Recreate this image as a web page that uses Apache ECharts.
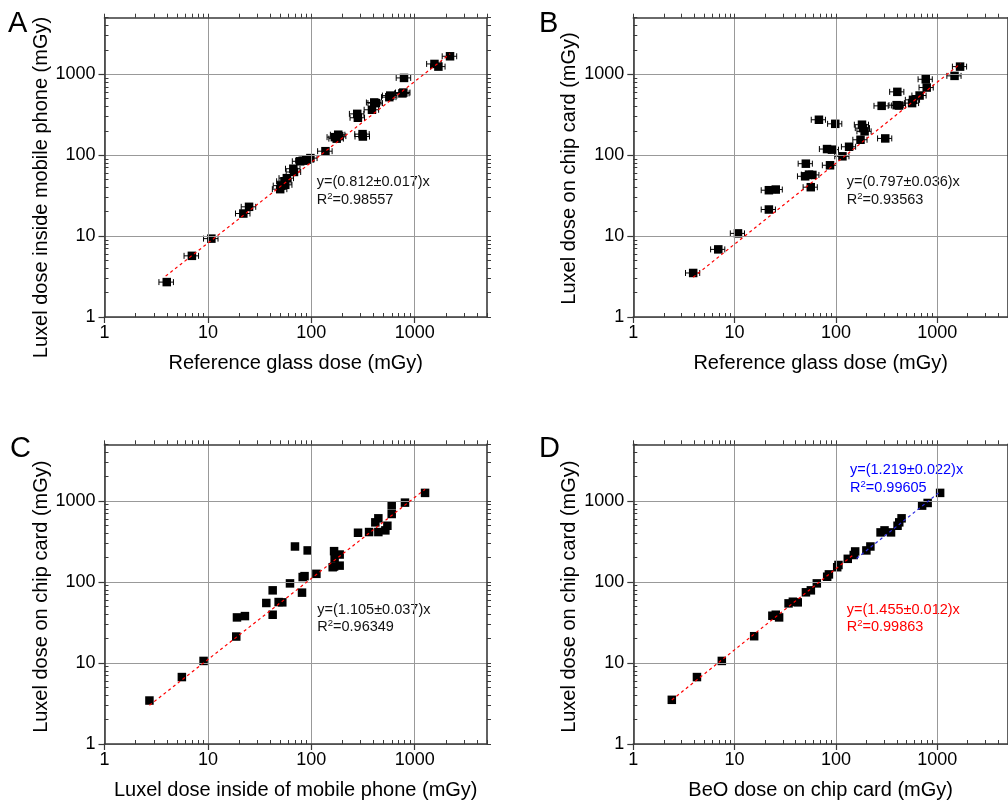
<!DOCTYPE html>
<html><head><meta charset="utf-8">
<script src="https://cdn.jsdelivr.net/npm/echarts@6/dist/echarts.min.js"></script>
<style>html,body{margin:0;padding:0;background:#fff}#c{width:1008px;height:802px}</style>
</head><body><div id="c"></div>
<script>
// ---------- data ----------
const glassDoseA = [4.0, 7.0, 10.8, 22, 25, 50, 51, 55, 58, 56, 67, 68, 78, 84, 90, 98, 137, 169, 176, 182, 186, 278, 282, 313, 315, 386, 406, 420, 568, 580, 760, 776, 788, 1552, 1694, 2195];
const phoneDoseA = [2.7, 5.7, 9.3, 19, 23, 38, 42, 47.6, 52, 43, 68, 62, 84, 85.5, 88, 92, 112, 167, 160, 179, 172, 324, 290, 182, 170, 364, 448, 440, 521, 545, 580, 594, 901, 1341, 1243, 1668];

const glassDoseB = [3.9, 6.9, 10.8, 21.8, 21.8, 25.5, 50.5, 49.7, 54.3, 58.6, 56.5, 68, 98.6, 81.8, 91.4, 87.5, 116, 135, 175, 181, 185, 192, 307, 283, 398, 420, 404, 565, 577, 670, 788, 771, 1483, 1682];
const cardDoseB  = [3.5, 6.85, 10.8, 21.3, 36.9, 37.6, 78.5, 54.8, 57.5, 57, 40.2, 274, 244, 119, 117, 75, 96.8, 127, 155, 238, 216, 197, 161, 407, 415, 411, 606, 440, 483, 546, 685, 867, 955, 1243];

const phoneDoseC = [2.72, 5.6, 9.08, 18.8, 19.1, 22.8, 36.7, 42.3, 42.3, 48.3, 52.4, 62.2, 69.5, 92.2, 81.3, 82.5, 86, 112, 161, 166, 188, 166, 168, 188, 283, 362, 445, 416, 445, 520, 544, 599, 599, 805, 1259];
const cardDoseC  = [3.44, 6.7, 10.6, 21.2, 36.5, 37.9, 55, 39.4, 78.8, 56.5, 56, 96, 274, 245, 73.8, 115, 118, 126, 152, 155, 159, 240, 195, 218, 405, 413, 413, 544, 610, 433, 494, 690, 884, 953, 1257];

const beoDoseD  = [2.4, 4.25, 7.48, 15.6, 23.6, 25.5, 27.5, 34.1, 37.6, 42, 50.6, 56.6, 64.8, 82, 85.3, 103, 106, 131, 150, 155, 200, 219, 276, 302, 350, 406, 422, 445, 710, 805, 1069];
const cardDoseD = [3.51, 6.7, 10.6, 21.4, 38.3, 39.4, 36.5, 54.4, 57, 56, 74.5, 78.8, 96, 116, 124, 152, 162, 193, 215, 238, 245, 274, 409, 433, 409, 494, 544, 610, 875, 944, 1257];

// relative horizontal uncertainty of the reference glass dose (panels A, B)
const glassRelErr = 0.16;

// fitted lines (end points)
const fitA = [[3.9, 3.2], [2200, 1790]];
const fitB = [[3.9, 3.1], [1700, 1355]];
const fitC = [[2.72, 3.0], [1260, 1392]];
const fitDlow = [[2.4, 3.5], [150, 218]];
const fitDhigh = [[160, 195], [1070, 1304]];

const decadeTicks = [1, 10, 100, 1000];
const minorTicks = [2, 3, 4, 5, 6, 7, 8, 9, 20, 30, 40, 50, 60, 70, 80, 90, 200, 300, 400, 500, 600, 700, 800, 900, 2000, 3000, 4000, 5000];
const allTicks = decadeTicks.concat(minorTicks);

const xTitles = ['Reference glass dose (mGy)', 'Reference glass dose (mGy)', 'Luxel dose inside of mobile phone (mGy)', 'BeO dose on chip card (mGy)'];
const yTitles = ['Luxel dose inside mobile phone (mGy)', 'Luxel dose on chip card (mGy)', 'Luxel dose on chip card (mGy)', 'Luxel dose on chip card (mGy)'];
const letters = ['A', 'B', 'C', 'D'];

// ---------- layout ----------
const FONT = '"Liberation Sans", Arial, Helvetica, sans-serif';
const boxes = [
  {left: 104.5, top: 17.7, width: 382.5, height: 299.3},
  {left: 633.3, top: 17.7, width: 382, height: 299.3},
  {left: 104.5, top: 444.3, width: 382.5, height: 299.7},
  {left: 633.3, top: 444.3, width: 382, height: 299.7}
];
const AXC = '#3a3a3a';
const plainNum = v => String(Math.round(v));

function baseAxis(gi, pos) {
  return {
    type: 'log', logBase: 10, min: 1, max: 5000, gridIndex: gi, position: pos,
    axisLine: {show: true, onZero: false, lineStyle: {color: AXC, width: 1.6}},
    axisLabel: {show: false}, axisTick: {show: false},
    splitLine: {show: false}, minorTick: {show: false}, minorSplitLine: {show: false},
    silent: true, z: 5
  };
}

const grids = [], xAxes = [], yAxes = [];
boxes.forEach((b, p) => {
  grids.push(Object.assign({}, b));          // main grid 2p
  grids.push(Object.assign({}, b));          // overlay grid 2p+1 (minor ticks)
  xAxes.push(Object.assign(baseAxis(2 * p, 'bottom'), {
    axisTick: {show: true, inside: false, length: 6, customValues: decadeTicks, lineStyle: {color: AXC, width: 1.2}},
    axisLabel: {show: true, customValues: decadeTicks, formatter: plainNum, fontSize: 18, color: '#000', fontFamily: FONT, margin: 7},
    splitLine: {show: true, lineStyle: {color: '#999', width: 1}},
    name: xTitles[p], nameLocation: 'middle', nameGap: 36,
    nameTextStyle: {fontSize: 20, color: '#000', fontFamily: FONT}
  }));
  xAxes.push(Object.assign(baseAxis(2 * p, 'top'), {
    axisTick: {show: true, inside: false, length: 4, customValues: allTicks, lineStyle: {color: AXC, width: 1}}
  }));
  xAxes.push(Object.assign(baseAxis(2 * p + 1, 'bottom'), {
    axisLine: {show: false},
    axisTick: {show: true, inside: true, length: 4, customValues: minorTicks, lineStyle: {color: AXC, width: 1}}
  }));
  yAxes.push(Object.assign(baseAxis(2 * p, 'left'), {
    axisTick: {show: true, inside: false, length: 6, customValues: decadeTicks, lineStyle: {color: AXC, width: 1.2}},
    axisLabel: {show: true, customValues: decadeTicks, formatter: plainNum, fontSize: 18, color: '#000', fontFamily: FONT, margin: 9},
    splitLine: {show: true, lineStyle: {color: '#999', width: 1}}
  }));
  yAxes.push(Object.assign(baseAxis(2 * p, 'right'), {
    axisTick: {show: true, inside: false, length: 4, customValues: allTicks, lineStyle: {color: AXC, width: 1}}
  }));
  yAxes.push(Object.assign(baseAxis(2 * p + 1, 'left'), {
    axisLine: {show: false},
    axisTick: {show: true, inside: true, length: 4, customValues: minorTicks, lineStyle: {color: AXC, width: 1}}
  }));
});

function zip(a, b) { return a.map((v, i) => [v, b[i]]); }

function errBars(p, xs, ys) {
  return {
    type: 'custom', xAxisIndex: 3 * p, yAxisIndex: 3 * p, silent: true, z: 3,
    data: xs.map((v, i) => [v, ys[i], glassRelErr]),
    renderItem: function (params, api) {
      const x = api.value(0), y = api.value(1), e = api.value(2);
      const lo = api.coord([x * (1 - e), y]);
      const hi = api.coord([x * (1 + e), y]);
      const h = 3;
      const st = {stroke: '#000', lineWidth: 1};
      return {type: 'group', children: [
        {type: 'line', shape: {x1: lo[0], y1: lo[1], x2: hi[0], y2: hi[1]}, style: st},
        {type: 'line', shape: {x1: lo[0], y1: lo[1] - h, x2: lo[0], y2: lo[1] + h}, style: st},
        {type: 'line', shape: {x1: hi[0], y1: hi[1] - h, x2: hi[0], y2: hi[1] + h}, style: st}
      ]};
    }
  };
}
function points(p, xs, ys) {
  return {type: 'scatter', xAxisIndex: 3 * p, yAxisIndex: 3 * p, data: zip(xs, ys),
    symbol: 'rect', symbolSize: 8.5, itemStyle: {color: '#000', opacity: 1}, silent: true, z: 4};
}
function fit(p, d, color) {
  return {type: 'line', xAxisIndex: 3 * p, yAxisIndex: 3 * p, data: d, symbol: 'none', silent: true, z: 5,
    lineStyle: {color: color, width: 1.2, type: [3, 3]}};
}

const series = [
  errBars(0, glassDoseA, phoneDoseA), points(0, glassDoseA, phoneDoseA), fit(0, fitA, '#ff0000'),
  errBars(1, glassDoseB, cardDoseB), points(1, glassDoseB, cardDoseB), fit(1, fitB, '#ff0000'),
  points(2, phoneDoseC, cardDoseC), fit(2, fitC, '#ff0000'),
  points(3, beoDoseD, cardDoseD), fit(3, fitDlow, '#ff0000'), fit(3, fitDhigh, '#2a2ae0')
];

// ---------- text ----------
const letterPos = [[8, 9], [539, 9], [10, 434], [539, 434]];
const yTitlePos = [[41, 187.5], [569, 168.5], [41, 596.7], [569, 596.7]];
const notes = [
  {x: 316.7, y: 173.5, c: '#111', t: 'y=(0.812±0.017)x', r: '0.98557'},
  {x: 846.7, y: 173.5, c: '#111', t: 'y=(0.797±0.036)x', r: '0.93563'},
  {x: 317.3, y: 601, c: '#111', t: 'y=(1.105±0.037)x', r: '0.96349'},
  {x: 850, y: 461.5, c: '#0000ff', t: 'y=(1.219±0.022)x', r: '0.99605'},
  {x: 846.7, y: 601, c: '#ff0000', t: 'y=(1.455±0.012)x', r: '0.99863'}
];
const graphic = [];
letters.forEach((l, i) => graphic.push({type: 'text', x: letterPos[i][0], y: letterPos[i][1], silent: true,
  style: {text: l, fontSize: 29, fontFamily: FONT, fill: '#000', align: 'left', verticalAlign: 'top'}}));
yTitles.forEach((t, i) => graphic.push({type: 'text', x: yTitlePos[i][0], y: yTitlePos[i][1], rotation: Math.PI / 2, silent: true,
  style: {text: t, fontSize: 20, fontFamily: FONT, fill: '#000', align: 'center', verticalAlign: 'middle'}}));
notes.forEach(n => graphic.push({type: 'text', x: n.x, y: n.y, silent: true,
  style: {text: n.t + '\nR{s|2}=' + n.r, fontSize: 14.5, lineHeight: 17.5, fontFamily: FONT, fill: n.c,
    align: 'left', verticalAlign: 'top',
    rich: {s: {fontSize: 9.5, fontFamily: FONT, fill: n.c, verticalAlign: 'top', lineHeight: 17.5, padding: [0, 0, 6, 0]}}}}));

const chart = echarts.init(document.getElementById('c'), null, {renderer: 'canvas'});
chart.setOption({
  animation: false,
  backgroundColor: '#fff',
  grid: grids, xAxis: xAxes, yAxis: yAxes, series: series, graphic: graphic
});
</script></body></html>
